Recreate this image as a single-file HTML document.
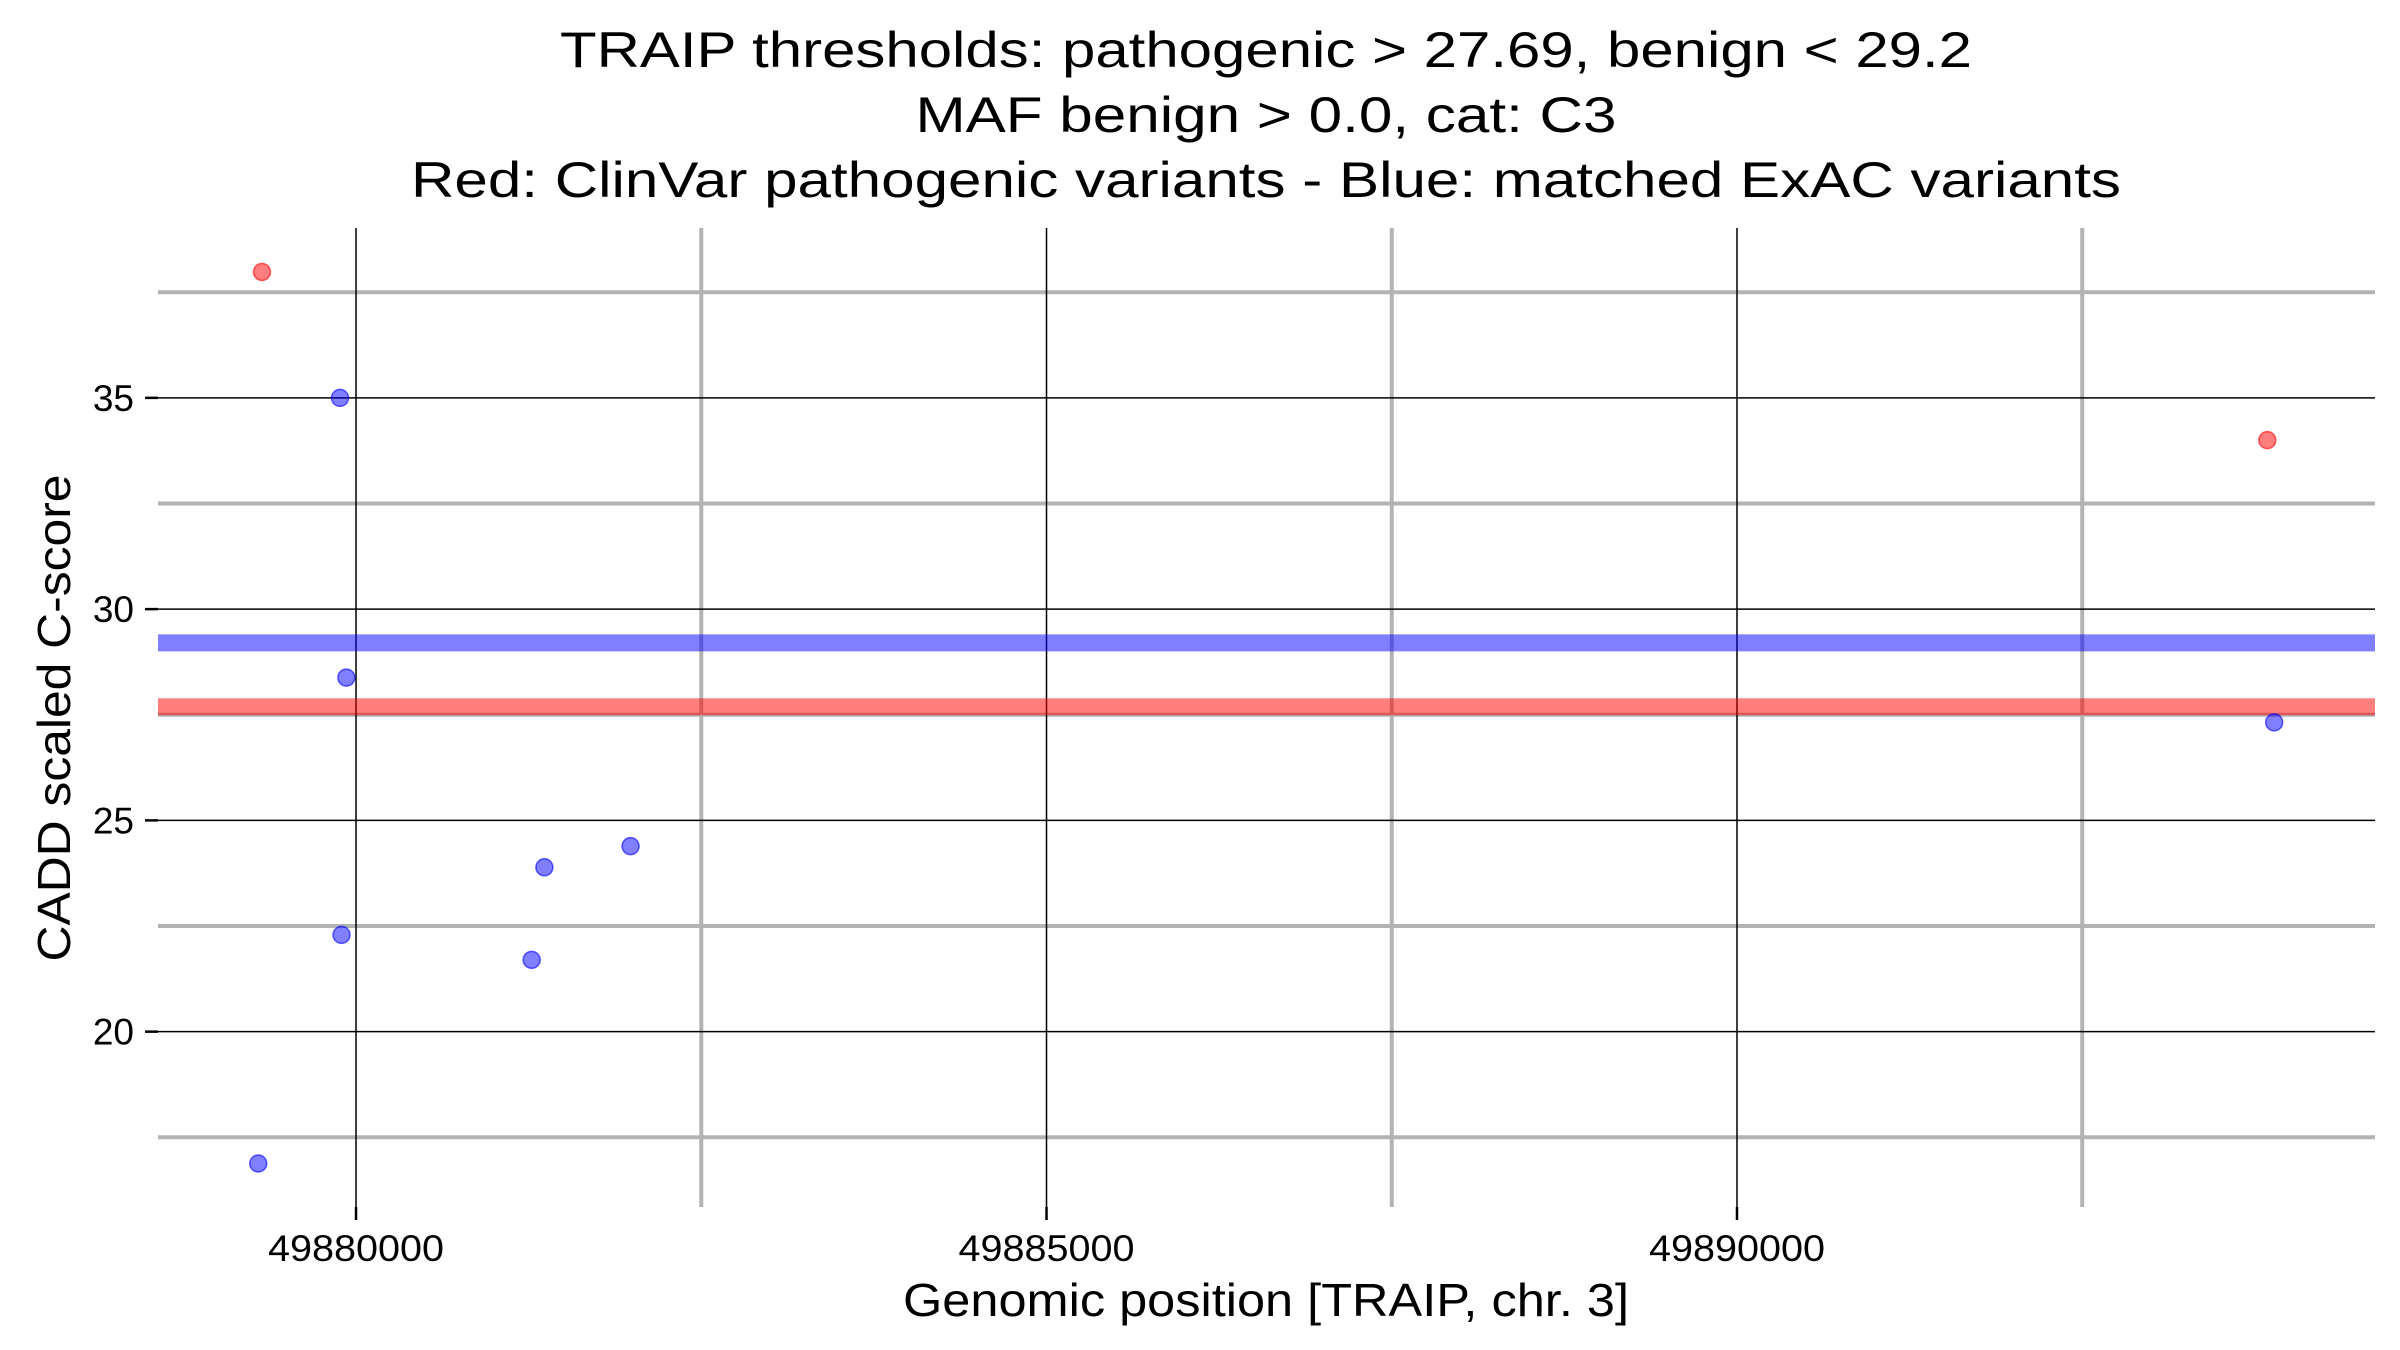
<!DOCTYPE html>
<html><head><meta charset="utf-8"><style>
html,body{margin:0;padding:0;background:#fff;}
svg{display:block;font-family:"Liberation Sans",Arial,sans-serif;}
</style></head><body>
<svg id="chart" width="2400" height="1350" viewBox="0 0 2400 1350" xmlns="http://www.w3.org/2000/svg">
<rect width="2400" height="1350" fill="#fff"/>
<g text-anchor="middle" font-size="50" fill="#000">
<text x="1266" y="67" textLength="1412" lengthAdjust="spacingAndGlyphs">TRAIP thresholds: pathogenic &gt; 27.69, benign &lt; 29.2</text>
<text x="1266" y="132" textLength="701" lengthAdjust="spacingAndGlyphs">MAF benign &gt; 0.0, cat: C3</text>
<text x="1266" y="197" textLength="1710" lengthAdjust="spacingAndGlyphs">Red: ClinVar pathogenic variants - Blue: matched ExAC variants</text>
</g>
<g id="grid"></g>
<g id="thresholds"></g>
<g id="points"></g>
<g id="axes"></g>
<text x="1266" y="1316" text-anchor="middle" font-size="46" textLength="726" lengthAdjust="spacingAndGlyphs">Genomic position [TRAIP, chr. 3]</text>
<text transform="translate(70,718) rotate(-90)" text-anchor="middle" font-size="46" textLength="487" lengthAdjust="spacingAndGlyphs">CADD scaled C-score</text>
</svg>
<script>
const redX = [49879319, 49893840];
const redY = [37.98, 34.0];
const blueX = [49879292, 49879884, 49879930, 49879895, 49881272, 49881364, 49881988, 49893890];
const blueY = [16.88, 35.0, 28.38, 22.29, 21.70, 23.89, 24.39, 27.32];
const thresholdValues = [29.2, 27.69];
const thresholdNames = ['benign-threshold-line', 'pathogenic-threshold-line'];
const xTicks = [49880000, 49885000, 49890000];
const xTickLabels = ['49880000', '49885000', '49890000'];
const xMinor = [49882500, 49887500, 49892500];
const yTicks = [20, 25, 30, 35];
const yTickLabels = ['20', '25', '30', '35'];
const yMinor = [17.5, 22.5, 27.5, 32.5, 37.5];

const L = 158, R = 2375, T = 228, B = 1207;
const xMin = 49878566, xMax = 49894620, yMin = 15.85, yMax = 39.02;
function sx(v){ return L + (v - xMin) / (xMax - xMin) * (R - L); }
function sy(v){ return B - (v - yMin) / (yMax - yMin) * (B - T); }
const NS = 'http://www.w3.org/2000/svg';
function mk(tag, parent){ const e = document.createElementNS(NS, tag); parent.appendChild(e); return e; }
const grid = document.getElementById('grid');
yMinor.forEach(v => {
  const l = mk('line', grid);
  
  
  l.setAttribute('x1', L); l.setAttribute('x2', R); l.setAttribute('y1', sy(v)); l.setAttribute('y2', sy(v));
  l.setAttribute('stroke', '#b3b3b3'); l.setAttribute('stroke-width', '4');
});
xMinor.forEach(v => {
  const l = mk('line', grid);
  
  
  l.setAttribute('x1', sx(v)); l.setAttribute('x2', sx(v)); l.setAttribute('y1', T); l.setAttribute('y2', B);
  l.setAttribute('stroke', '#b3b3b3'); l.setAttribute('stroke-width', '4');
});
yTicks.forEach(v => {
  const l = mk('line', grid);
  
  
  l.setAttribute('x1', L); l.setAttribute('x2', R); l.setAttribute('y1', sy(v)); l.setAttribute('y2', sy(v));
  l.setAttribute('stroke', '#000'); l.setAttribute('stroke-width', '1.5');
});
xTicks.forEach(v => {
  const l = mk('line', grid);
  
  
  l.setAttribute('x1', sx(v)); l.setAttribute('x2', sx(v)); l.setAttribute('y1', T); l.setAttribute('y2', B);
  l.setAttribute('stroke', '#000'); l.setAttribute('stroke-width', '1.5');
});
const th = document.getElementById('thresholds');
thresholdValues.forEach((v, i) => {
  const l = mk('line', th);
  
  
  l.setAttribute('x1', L); l.setAttribute('x2', R); l.setAttribute('y1', sy(v)); l.setAttribute('y2', sy(v));
  l.setAttribute('stroke', i === 0 ? '#0000ff' : '#ff0000'); l.setAttribute('stroke-opacity', '0.5'); l.setAttribute('stroke-width', '17');
});
const pts = document.getElementById('points');
blueX.forEach((v, i) => {
  const c = mk('circle', pts);
  
  
  c.setAttribute('cx', sx(v)); c.setAttribute('cy', sy(blueY[i])); c.setAttribute('r', '8.5');
  c.setAttribute('fill', 'rgba(0,0,255,0.5)'); c.setAttribute('stroke', 'rgba(0,0,255,0.6)'); c.setAttribute('stroke-width', '1.5');
});
redX.forEach((v, i) => {
  const c = mk('circle', pts);
  
  
  c.setAttribute('cx', sx(v)); c.setAttribute('cy', sy(redY[i])); c.setAttribute('r', '8.5');
  c.setAttribute('fill', 'rgba(255,0,0,0.5)'); c.setAttribute('stroke', 'rgba(255,0,0,0.6)'); c.setAttribute('stroke-width', '1.5');
});
const ax = document.getElementById('axes');
yTicks.forEach((v, i) => {
  const t = mk('line', ax);
  
  
  t.setAttribute('x1', 145); t.setAttribute('x2', L); t.setAttribute('y1', sy(v)); t.setAttribute('y2', sy(v));
  t.setAttribute('stroke', '#000'); t.setAttribute('stroke-width', '2.5');
  const s = mk('text', ax);
  
  
  s.setAttribute('x', 134); s.setAttribute('y', sy(v) + 13); s.setAttribute('text-anchor', 'end'); s.setAttribute('font-size', '37');
  s.textContent = yTickLabels[i];
});
xTicks.forEach((v, i) => {
  const t = mk('line', ax);
  
  
  t.setAttribute('x1', sx(v)); t.setAttribute('x2', sx(v)); t.setAttribute('y1', B); t.setAttribute('y2', B + 13);
  t.setAttribute('stroke', '#000'); t.setAttribute('stroke-width', '2.5');
  const s = mk('text', ax);
  
  
  s.setAttribute('x', sx(v)); s.setAttribute('y', 1261); s.setAttribute('text-anchor', 'middle'); s.setAttribute('font-size', '37');
  s.setAttribute('textLength', '176'); s.setAttribute('lengthAdjust', 'spacingAndGlyphs');
  s.textContent = xTickLabels[i];
});
</script>
</body></html>
